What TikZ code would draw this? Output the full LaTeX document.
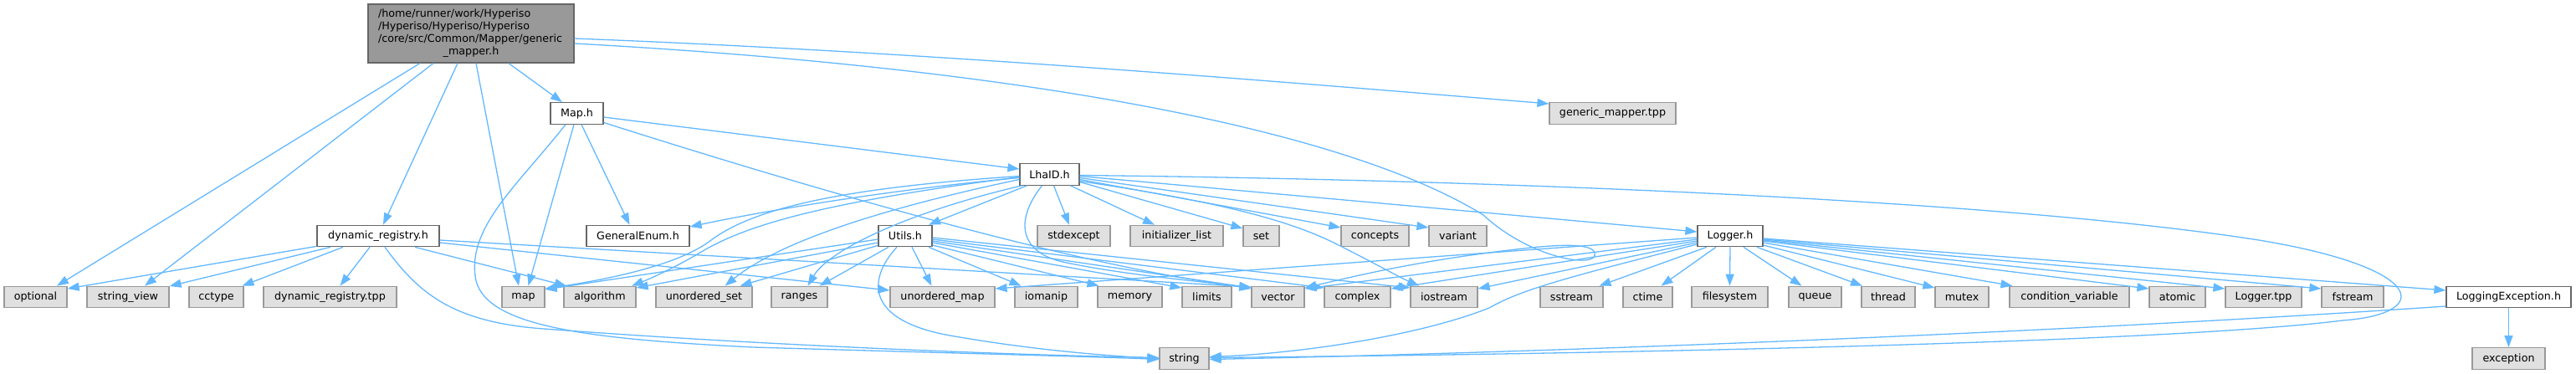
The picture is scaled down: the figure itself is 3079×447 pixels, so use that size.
\documentclass[tikz,border=0pt]{standalone}
\usepackage{fontspec}
\setmainfont{DejaVu Sans}
\usetikzlibrary{arrows.meta,calc}
\definecolor{edgec}{HTML}{63B8FF}
\definecolor{mainfill}{HTML}{999999}
\definecolor{bord}{HTML}{666666}
\definecolor{sysfill}{HTML}{E0E0E0}
\definecolor{sysbord}{HTML}{999999}
\begin{document}
\begin{tikzpicture}[x=1pt,y=-1pt,
  every node/.style={font=\fontsize{12.7}{15}\selectfont, inner sep=0pt, anchor=center},
  hdr/.style={draw=bord, fill=white, line width=1.2pt, minimum height=25.5pt},
  sys/.style={draw=sysbord, fill=sysfill, line width=1.2pt, minimum height=25.5pt},
  mainbox/.style={draw=bord, fill=mainfill, line width=1.2pt, minimum height=70pt, minimum width=246pt, text width=222pt, align=left},
  e/.style={draw=edgec, line width=1.3pt, -{Triangle[length=14pt,width=10pt]}},
]
\useasboundingbox (0,0) rectangle (3079,447);
% nodes
\node[mainbox] (main) at (563,40) {/home/runner/work/Hyperiso\\/Hyperiso/Hyperiso/Hyperiso\\/core/src/Common/Mapper/generic\\\makebox[\linewidth][c]{\_mapper.h}};
\node[hdr, minimum width=63pt] (maph) at (689.5,135.5) {Map.h};
\node[sys, minimum width=151pt] (gmtpp) at (1927.5,135.5) {generic\_mapper.tpp};
\node[hdr, minimum width=71pt] (lhaid) at (1254.5,208.5) {LhaID.h};
% row 3
\node[hdr, minimum width=146pt] (dynreg) at (452,282) {dynamic\_registry.h};
\node[hdr, minimum width=123pt] (genenum) at (762.5,282) {GeneralEnum.h};
\node[hdr, minimum width=64pt] (utils) at (1082,282) {Utils.h};
\node[sys, minimum width=87pt] (stdexcept) at (1283.5,282) {stdexcept};
\node[sys, minimum width=111pt] (initlist) at (1406.5,282) {initializer\_list};
\node[sys, minimum width=43pt] (set) at (1507.5,282) {set};
\node[sys, minimum width=81pt] (concepts) at (1643.5,282) {concepts};
\node[sys, minimum width=69pt] (variant) at (1742.5,282) {variant};
\node[hdr, minimum width=78pt] (logger) at (2068,282) {Logger.h};
% row 4
\node[sys, minimum width=75pt] (optional) at (42.5,355) {optional};
\node[sys, minimum width=98pt] (stringview) at (153,355) {string\_view};
\node[sys, minimum width=65pt] (cctype) at (258.5,355) {cctype};
\node[sys, minimum width=159pt] (dyntpp) at (394.5,355) {dynamic\_registry.tpp};
\node[sys, minimum width=51pt] (map) at (625.5,355) {map};
\node[sys, minimum width=86pt] (algorithm) at (717,355) {algorithm};
\node[sys, minimum width=115pt] (uset) at (841.5,355) {unordered\_set};
\node[sys, minimum width=67pt] (ranges) at (955.5,355) {ranges};
\node[sys, minimum width=125pt] (umap) at (1126.5,355) {unordered\_map};
\node[sys, minimum width=75pt] (iomanip) at (1250.5,355) {iomanip};
\node[sys, minimum width=77pt] (memory) at (1350.5,355) {memory};
\node[sys, minimum width=59pt] (limits) at (1442.5,355) {limits};
\node[sys, minimum width=63pt] (vector) at (1527.5,355) {vector};
\node[sys, minimum width=79pt] (complex) at (1622.5,355) {complex};
\node[sys, minimum width=80pt] (iostream) at (1726,355) {iostream};
\node[sys, minimum width=75pt] (sstream) at (1878.5,355) {sstream};
\node[sys, minimum width=59pt] (ctime) at (1969.5,355) {ctime};
\node[sys, minimum width=91pt] (filesystem) at (2067.5,355) {filesystem};
\node[sys, minimum width=63pt] (queue) at (2169.5,355) {queue};
\node[sys, minimum width=64pt] (thread) at (2257,355) {thread};
\node[sys, minimum width=64pt] (mutex) at (2345,355) {mutex};
\node[sys, minimum width=143pt] (condvar) at (2473.5,355) {condition\_variable};
\node[sys, minimum width=67pt] (atomic) at (2602.5,355) {atomic};
\node[sys, minimum width=91pt] (loggertpp) at (2705.5,355) {Logger.tpp};
\node[sys, minimum width=74pt] (fstream) at (2812,355) {fstream};
\node[hdr, minimum width=149pt] (logexc) at (2998.5,355) {LoggingException.h};
% row 5
\node[sys, minimum width=59pt] (string) at (1415.5,428.5) {string};
\node[sys, minimum width=87pt] (exception) at (2998.5,428.5) {exception};
% edges from main
\path[e] ($(main.south)+(-61,0)$) -- ($(optional.north)+(25.5,0)$);
\path[e] ($(main.south)+(-45,0)$) -- ($(stringview.north)+(20,0)$);
\path[e] ($(main.south)+(-16,0)$) -- ($(dynreg.north)+(6,0)$);
\path[e] ($(main.south)+(6,0)$) -- ($(map.north)+(-5.5,0)$);
\path[e] ($(main.south)+(45,0)$) -- ($(maph.north)+(-17.5,0)$);
\path[e] ($(main.east)+(0,6)$) .. controls (1100,62) and (1500,95) .. ($(gmtpp.west)+(0,-11.5)$);
\path[e] ($(main.east)+(0,12)$) .. controls (1200,80) and (1600,150) .. (1773,257) .. controls (1830,310) and (1912,322) .. (1906,302) .. controls (1902,290) and (1860,293) .. (1830,296) .. controls (1700,310) and (1620,330) .. ($(vector.east)+(0,-11)$);
% edges from Map.h
\path[e] ($(maph.east)+(0,4.5)$) -- ($(lhaid.west)+(0,-6.5)$);
\path[e] ($(maph.east)+(0,11)$) .. controls (1000,235) and (1300,320) .. ($(vector.west)+(0,-11)$);
\path[e] ($(maph.south)+(-3.5,0)$) -- ($(map.north)+(6,0)$);
\path[e] ($(maph.south)+(5.5,0)$) -- ($(genenum.north)+(-10,0)$);
\path[e] ($(maph.south)+(-13.5,0)$) .. controls (620,220) and (560,270) .. (568,330) .. controls (575,390) and (700,405) .. (900,415) .. controls (1100,421) and (1300,426) .. ($(string.west)+(0,1)$);
% edges from dynamic_registry.h
\path[e] ($(dynreg.south west)+(0,-1)$) -- ($(optional.east)+(0,-10)$);
\path[e] ($(dynreg.south)+(-57,0)$) -- ($(stringview.east)+(0,-13)$);
\path[e] ($(dynreg.south)+(-42,0)$) -- ($(cctype.north)+(31,0)$);
\path[e] ($(dynreg.south)+(-10,0)$) -- ($(dyntpp.north)+(12,0)$);
\path[e] ($(dynreg.south)+(44,0)$) -- ($(algorithm.north)+(-40,0)$);
\path[e] ($(dynreg.east)+(0,8)$) -- ($(umap.west)+(0,-8)$);
\path[e] ($(dynreg.east)+(0,5)$) -- ($(vector.west)+(0,-12)$);
\path[e] ($(dynreg.south)+(8,0)$) .. controls (500,350) and (540,385) .. (650,393) .. controls (900,412) and (1200,424) .. ($(string.west)+(0,-1)$);
% edges from LhaID.h
\path[e] ($(lhaid.west)+(0,4)$) .. controls (1050,228) and (900,255) .. ($(genenum.east)+(0,-11)$);
\path[e] ($(lhaid.west)+(0,2)$) .. controls (1000,225) and (900,250) .. (850,287) .. controls (810,318) and (720,335) .. ($(map.east)+(0,-10)$);
\path[e] ($(lhaid.west)+(0,3)$) .. controls (1000,240) and (900,265) .. (840,300) .. controls (810,318) and (780,332) .. ($(algorithm.north)+(38,0)$);
\path[e] ($(lhaid.west)+(0,6)$) .. controls (1050,250) and (930,290) .. ($(uset.north)+(25,0)$);
\path[e] ($(lhaid.south west)+(3,0)$) .. controls (1080,255) and (990,300) .. ($(ranges.north)+(10,0)$);
\path[e] ($(lhaid.south)+(-27,0)$) -- ($(utils.north)+(28,0)$);
\path[e] ($(lhaid.south)+(-9,0)$) .. controls (1215,260) and (1215,300) .. (1270,313) .. controls (1350,330) and (1440,336) .. ($(vector.west)+(0,-10)$);
\path[e] ($(lhaid.south)+(5,0)$) -- ($(stdexcept.north)+(-5.5,0)$);
\path[e] ($(lhaid.south)+(25,0)$) -- ($(initlist.north)+(-26.5,0)$);
\path[e] ($(lhaid.east)+(0,9)$) -- ($(set.west)+(0,-9)$);
\path[e] ($(lhaid.east)+(0,6)$) -- ($(concepts.west)+(0,-10)$);
\path[e] ($(lhaid.east)+(0,4)$) -- ($(variant.west)+(0,-10)$);
\path[e] ($(lhaid.east)+(0,2)$) -- ($(logger.west)+(0,-5)$);
\path[e] ($(lhaid.east)+(0,8)$) .. controls (1450,240) and (1540,262) .. (1600,293) .. controls (1640,313) and (1670,330) .. ($(iostream.north)+(-30,0)$);
\path[e] ($(lhaid.east)+(0,1)$) .. controls (1800,215) and (2400,240) .. (2700,287) .. controls (2900,320) and (2910,375) .. (2800,383) .. controls (2600,408) and (2000,422) .. ($(string.east)+(0,-1)$);
% edges from Utils.h
\path[e] ($(utils.west)+(0,4)$) -- ($(map.east)+(0,-9)$);
\path[e] ($(utils.west)+(0,8)$) -- ($(algorithm.east)+(0,-11)$);
\path[e] ($(utils.south west)+(0,-2)$) -- ($(uset.north)+(43,0)$);
\path[e] ($(utils.south)+(-20,0)$) -- ($(ranges.north)+(24,0)$);
\path[e] ($(utils.south)+(8,0)$) -- ($(umap.north)+(-13,0)$);
\path[e] ($(utils.south)+(28,0)$) -- ($(iomanip.north)+(-30,0)$);
\path[e] ($(utils.east)+(0,11)$) -- ($(memory.north)+(-37,0)$);
\path[e] ($(utils.east)+(0,8)$) -- ($(limits.west)+(0,-11)$);
\path[e] ($(utils.east)+(0,6)$) -- ($(vector.west)+(0,-11)$);
\path[e] ($(utils.east)+(0,4)$) -- ($(complex.west)+(0,-11)$);
\path[e] ($(utils.east)+(0,2)$) -- ($(iostream.west)+(0,-11)$);
\path[e] ($(utils.south)+(-10,0)$) .. controls (1040,330) and (1030,380) .. (1130,400) .. controls (1230,418) and (1320,425) .. ($(string.west)+(0,0)$);
% edges from Logger.h
\path[e] ($(logger.south)+(-28,0)$) -- ($(sstream.north)+(33,0)$);
\path[e] ($(logger.south)+(-17,0)$) -- ($(ctime.north)+(16,0)$);
\path[e] (logger.south) -- (filesystem.north);
\path[e] ($(logger.south)+(16,0)$) -- ($(queue.north)+(-16,0)$);
\path[e] ($(logger.south)+(32,0)$) -- ($(thread.north)+(-31,0)$);
\path[e] ($(logger.east)+(0,11)$) -- ($(mutex.west)+(0,-11)$);
\path[e] ($(logger.east)+(0,8)$) -- ($(condvar.north)+(-68,0)$);
\path[e] ($(logger.east)+(0,6)$) -- ($(atomic.west)+(0,-10)$);
\path[e] ($(logger.east)+(0,5)$) -- ($(loggertpp.west)+(0,-10)$);
\path[e] ($(logger.east)+(0,4)$) -- ($(fstream.west)+(0,-10)$);
\path[e] ($(logger.east)+(0,3)$) -- ($(logexc.west)+(0,-8)$);
\path[e] ($(logger.west)+(0,8)$) -- ($(iostream.east)+(0,-10)$);
\path[e] ($(logger.west)+(0,6)$) -- ($(complex.east)+(0,-10)$);
\path[e] ($(logger.west)+(0,4)$) -- ($(vector.east)+(0,-10)$);
\path[e] ($(logger.west)+(0,2)$) -- ($(umap.east)+(0,-10)$);
\path[e] ($(logger.west)+(0,10)$) .. controls (1880,330) and (1820,345) .. (1780,368) .. controls (1700,400) and (1560,422) .. ($(string.east)+(0,-2)$);
% edges from LoggingException.h
\path[e] (logexc.south) -- (exception.north);
\path[e] ($(logexc.west)+(0,11)$) .. controls (2500,395) and (1900,420) .. ($(string.east)+(0,1)$);
\end{tikzpicture}
\end{document}
